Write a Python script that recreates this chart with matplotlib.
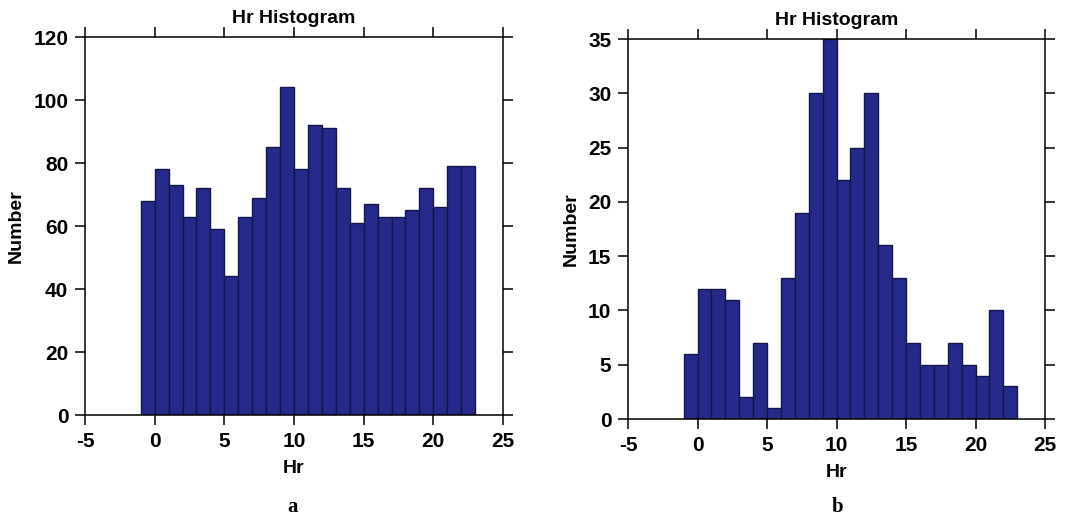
import matplotlib.pyplot as plt
import numpy as np

IMG_DPI = 100

# hour bins (left edges), one hour wide
bin_edges = np.arange(-1, 24)

# counts per hour bin, panel a
counts_a = [68, 78, 73, 63, 72, 59, 44, 63, 69, 85, 104, 78,
            92, 91, 72, 61, 67, 63, 63, 65, 72, 66, 79, 79]
# counts per hour bin, panel b
counts_b = [6, 12, 12, 11, 2, 7, 1, 13, 19, 30, 35, 22,
            25, 30, 16, 13, 7, 5, 5, 7, 5, 4, 10, 3]

x_ticks = [-5, 0, 5, 10, 15, 20, 25]
y_ticks_a = [0, 20, 40, 60, 80, 100, 120]
y_ticks_b = [0, 5, 10, 15, 20, 25, 30, 35]

BAR_COLOR = '#24298a'
EDGE_COLOR = '#14164a'

plt.rcParams['font.family'] = ['Liberation Sans', 'DejaVu Sans']
plt.rcParams['axes.unicode_minus'] = False


def draw_hist(ax, counts, y_ticks, ymax):
    centers = bin_edges[:-1] + 0.5
    ax.hist(centers, bins=bin_edges, weights=counts, color=BAR_COLOR,
            edgecolor=EDGE_COLOR, linewidth=1.0)
    ax.set_xlim(-5, 25)
    ax.set_ylim(0, ymax)
    ax.set_xticks(x_ticks)
    ax.set_yticks(y_ticks)
    ax.tick_params(direction='out', length=7, width=1.1, labelsize=15,
                   top=True, right=True, labeltop=False, labelright=False,
                   colors='black', pad=5)
    for lbl in ax.get_xticklabels() + ax.get_yticklabels():
        lbl.set_fontweight('bold')
    for sp in ax.spines.values():
        sp.set_linewidth(1.1)
    ax.set_title('Hr Histogram', fontsize=14, fontweight='bold', pad=10)
    ax.set_xlabel('Hr', fontsize=14, fontweight='bold', labelpad=7)
    ax.set_ylabel('Number', fontsize=14, fontweight='bold', labelpad=6)


fig = plt.figure(figsize=(10.81, 5.25), dpi=IMG_DPI)
ax_a = fig.add_axes([0.0786, 0.2095, 0.3867, 0.72])
ax_b = fig.add_axes([0.581, 0.2019, 0.3857, 0.7238])

draw_hist(ax_a, counts_a, y_ticks_a, 120)
draw_hist(ax_b, counts_b, y_ticks_b, 35)

fig.text(0.271, 0.034, 'a', family='Liberation Serif', fontweight='bold',
         fontsize=15, ha='center', va='center')
fig.text(0.775, 0.034, 'b', family='Liberation Serif', fontweight='bold',
         fontsize=15, ha='center', va='center')

plt.savefig('out.png', dpi=IMG_DPI)
